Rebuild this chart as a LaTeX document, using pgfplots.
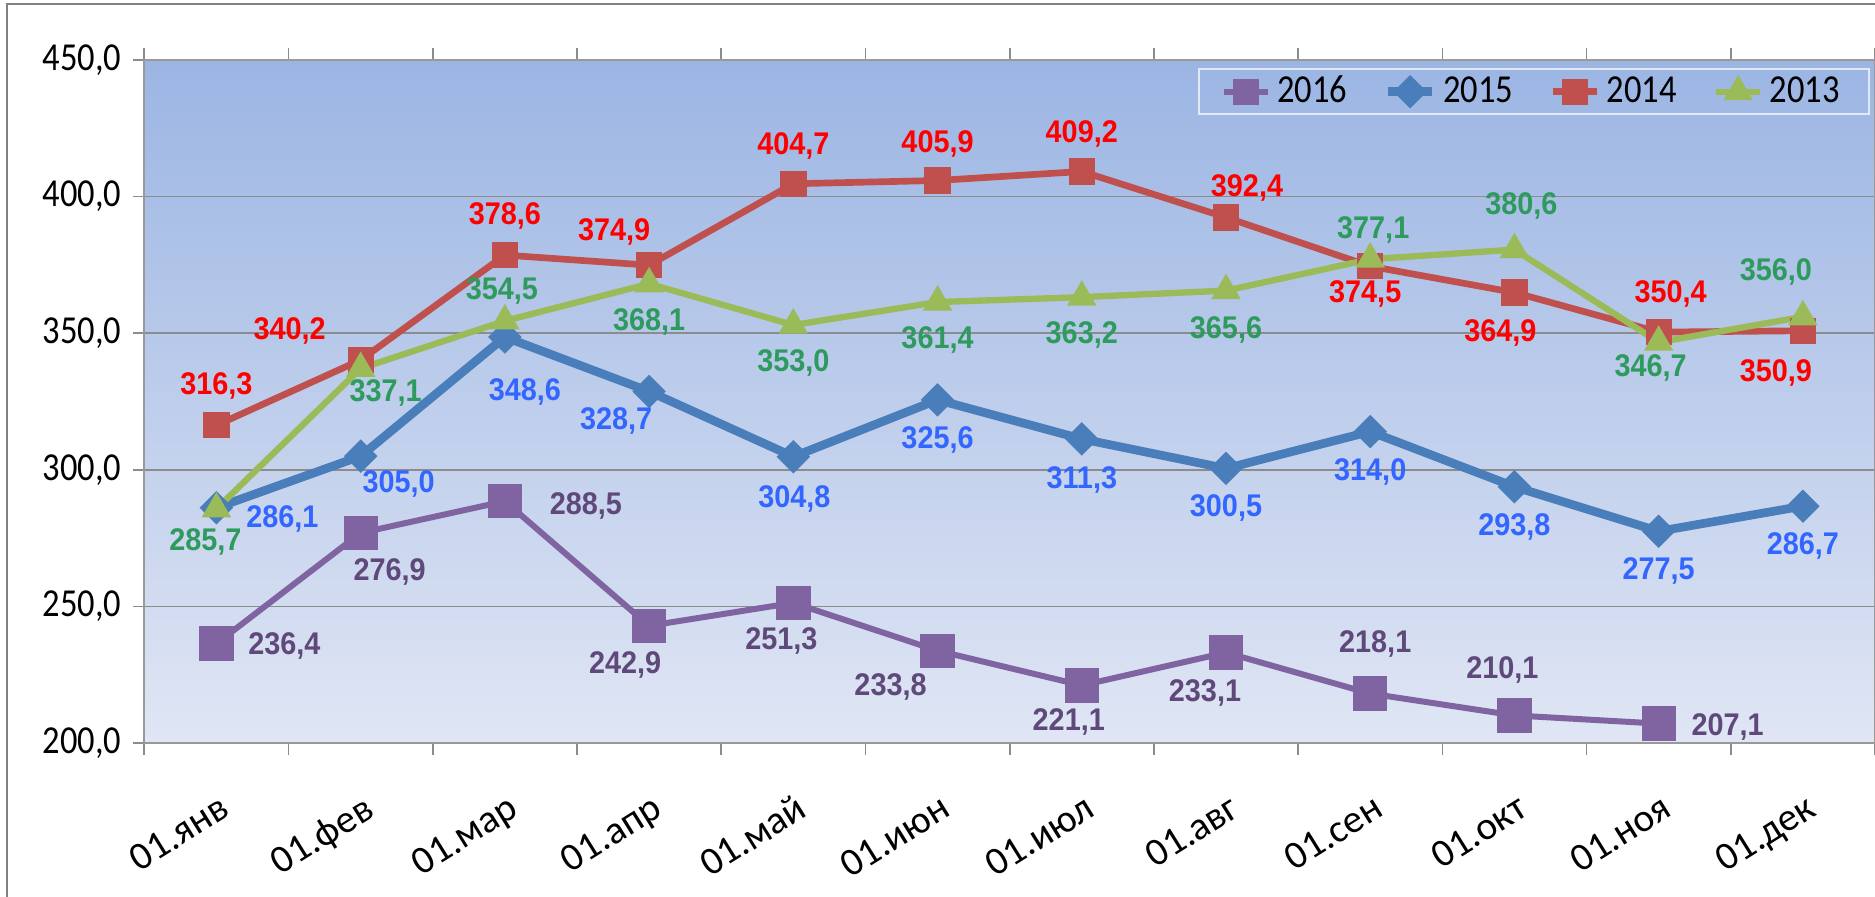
\documentclass[border=0pt]{standalone}
\usepackage{pgfplots}
\pgfplotsset{compat=1.18}
\usepackage{pgfplotstable}
\usepackage{fontspec}
\setmainfont{Carlito}[FakeStretch=0.87]
\newfontfamily\xtfont{Carlito}
\newfontfamily\lblfont{Liberation Sans}[FakeStretch=0.92]
\definecolor{c16}{HTML}{8064A2}
\definecolor{c15}{HTML}{4A7EBB}
\definecolor{c14}{HTML}{C0504D}
\definecolor{c13}{HTML}{9BBB59}
\definecolor{l16}{HTML}{5F497A}
\definecolor{l15}{HTML}{3366FF}
\definecolor{l14}{HTML}{FF0000}
\definecolor{l13}{HTML}{2F9A5E}
\definecolor{bgtop}{RGB}{155,181,227}
\definecolor{bgbot}{RGB}{224,230,244}

\pgfplotstableread{
x y dx dy
0 236.4 68 2
1 276.9 29 39
2 288.5 81 5
3 242.9 -24 39
4 251.3 -12 38
5 233.8 -47 36
6 221.1 -13 37
7 233.1 -21 40
8 218.1 5 -50
9 210.1 -12 -45
10 207.1 69 3
}\tA
\pgfplotstableread{
x y dx dy
0 286.1 66 11
1 305.0 38 28
2 348.6 20 55
3 328.7 -33 30
4 304.8 1 42
5 325.6 0 40
6 311.3 0 41
7 300.5 0 40
8 314.0 0 40
9 293.8 0 40
10 277.5 0 40
11 286.7 0 40
}\tB
\pgfplotstableread{
x y dx dy
0 316.3 0 -39
1 340.2 -71 -29
2 378.6 0 -39
3 374.9 -35 -33
4 404.7 0 -38
5 405.9 0 -37
6 409.2 0 -37
7 392.4 21 -29
8 374.5 -5 28
9 364.9 -14 40
10 350.4 12 -38
11 350.9 -27 42
}\tC
\pgfplotstableread{
x y dx dy
0 285.7 -11 33
1 337.1 25 25
2 354.5 -3 -30
3 368.1 0 38
4 353.0 0 38
5 361.4 0 38
6 363.2 0 38
7 365.6 0 39
8 377.1 3 -29
9 380.6 7 -44
10 346.7 -8 26
11 356.0 -27 -45
}\tD

\pgfplotsset{
  lbl/.style={
    nodes near coords={\pgfmathprintnumber[fixed,fixed zerofill,precision=1,use comma,assume math mode=true]{\pgfplotspointmeta}},
    visualization depends on={0.3*(\thisrow{dx})\as\dx},
    visualization depends on={-0.3*(\thisrow{dy})\as\dy},
    every node near coord/.append style={anchor=center, xshift=\dx, yshift=\dy,
      font=\lblfont\bfseries\fontsize{9.4}{10}\selectfont, text=#1, inner sep=0pt}
  }
}

\begin{document}
\begin{tikzpicture}
\useasboundingbox (0,0) rectangle (562.5pt,268.8pt);
\begin{axis}[
  at={(43.3pt,45.9pt)}, anchor=south west,
  scale only axis, width=519.2pt, height=204.9pt,
  xmin=-0.5, xmax=11.5, ymin=200, ymax=450,
  ytick={200,250,...,450},
  xtick={0,...,11},
  xticklabels={01.янв,01.фев,01.мар,01.апр,01.май,01.июн,01.июл,01.авг,01.сен,01.окт,01.ноя,01.дек},
  minor xtick={-0.5,0.5,...,11.5},
  major x tick style={draw=none},
  minor x tick style={black!45, line width=0.5pt},
  y tick style={black!45, line width=0.5pt},
  tick align=outside,
  major tick length=3.4pt, minor tick length=3.6pt,
  ymajorgrids, grid style={black!45, line width=0.45pt},
  axis line style={black!40, line width=0.5pt},
  axis background/.style={top color=bgtop, bottom color=bgbot},
  tick label style={font=\fontsize{11.9}{12}\selectfont, text=black},
  yticklabel style={/pgf/number format/.cd, fixed, fixed zerofill, precision=1, use comma, 1000 sep={}, assume math mode=true},
  xticklabel style={font=\xtfont\fontsize{11.8}{12}\selectfont, xshift=0.8pt, yshift=-10pt, rotate=32, anchor=north east, inner sep=1pt},
  legend columns=4,
  legend style={at={(1,1)}, anchor=north east, xshift=-1.5pt, yshift=-2.4pt,
    draw=white!70!bgtop, fill=none, line width=0.7pt,
    font=\fontsize{11.9}{12}\selectfont, inner xsep=6.7pt, inner ysep=0pt,
    /tikz/every even column/.append style={column sep=9pt}},
  legend image code/.code={\draw[mark repeat=2,mark phase=2,#1] plot coordinates {(0cm,0cm) (0.23cm,0cm) (0.46cm,0cm)};},
  clip=false,
]
\addplot[c16, line width=1.8pt, mark=square*, mark size=5pt,
  mark options={solid, fill=c16, draw=c16, line width=0pt},
  legend image post style={mark size=3.8pt},
  lbl=l16] table[x=x,y=y] {\tA};
\addplot[c15, line width=2.6pt, mark=square*, mark size=3.3pt,
  mark options={solid, fill=c15, draw=c15, rotate=45, line width=0.5pt},
  lbl=l15] table[x=x,y=y] {\tB};
\addplot[c14, line width=2pt, mark=square*, mark size=3.7pt,
  mark options={solid, fill=c14, draw=c14, rounded corners=1.2pt, line width=0.5pt},
  lbl=l14] table[x=x,y=y] {\tC};
\addplot[c13, line width=1.9pt, mark=triangle*, mark size=4.6pt,
  mark options={solid, fill=c13, draw=c13, line width=0.5pt},
  lbl=l13] table[x=x,y=y] {\tD};
\legend{2016,2015,2014,2013}
\end{axis}
\draw[black!50, line width=0.7pt] (2.1pt,-20pt) -- (2.1pt,267.6pt) -- (600pt,267.6pt);
\node[anchor=base west, inner sep=0pt, font=\fontsize{16}{16}\selectfont] at (526pt,271.6pt) {руб};
\end{tikzpicture}
\end{document}
